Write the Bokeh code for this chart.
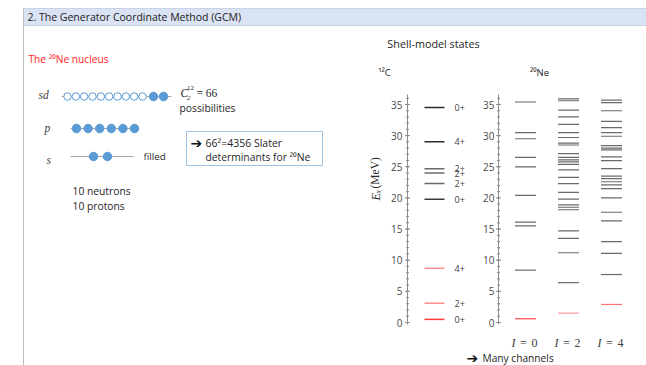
import numpy as np
from bokeh.plotting import figure
from bokeh.models import Range1d, Label, ColumnDataSource
from bokeh.core.properties import value
from bokeh.embed import file_html
from bokeh.resources import INLINE

# ---------------- data ----------------
c12_energy = [0.5, 3.1, 8.7, 19.8, 22.3, 24.0, 24.7, 29.0, 34.5]
c12_spin = ["0+", "2+", "4+", "0+", "2+", "2+", "2+", "4+", "0+"]
ne_I0 = [0.6, 8.4, 15.5, 16.1, 20.4, 25.0, 26.5, 29.5, 30.5, 35.4]
ne_I2 = [1.5, 6.4, 11.2, 13.5, 14.7, 18.1, 18.5, 18.9, 19.8, 20.9, 22.3, 23.3,
         24.5, 25.4, 25.8, 26.1, 26.5, 27.1, 28.5, 28.8, 29.7, 30.5, 31.8,
         33.0, 34.1, 35.6, 35.9]
ne_I4 = [2.9, 7.7, 11.1, 13.0, 16.3, 17.7, 20.0, 21.5, 22.1, 22.6, 23.1, 23.5,
         24.7, 26.0, 26.6, 27.7, 28.0, 28.4, 29.9, 30.5, 31.3, 32.3, 34.0,
         35.3, 35.7]
ne_channels = ["I = 0", "I = 2", "I = 4"]
major_ticks = [0, 5, 10, 15, 20, 25, 30, 35]
minor_ticks = list(range(0, 37))
sd_capacity, sd_occupied = 12, 2
p_occupied = 6
s_occupied = 2

# ---------------- canvas ----------------
W, H = 646, 365
p = figure(width=W, height=H, x_range=Range1d(0, W), y_range=Range1d(H, 0),
           output_backend="svg", toolbar_location=None, min_border=0,
           x_axis_location=None, y_axis_location=None,
           outline_line_color=None, background_fill_color="white")
for g in p.grid:
    g.visible = False
# energy scale: 0 MeV at y=322 px, 35 MeV at y=104 px
ppm = (322 - 104) / 35.0
p.extra_y_ranges = {"E": Range1d(start=(322 - H) / ppm, end=322 / ppm)}

SANS = "Open Sans"
SERIF = "Liberation Serif"


def T(x, y, text, size=9, color="#262626", font=SANS, style="normal",
      align="left", baseline="middle", angle=0):
    p.add_layout(Label(x=x, y=y, text=text, text_font=font,
                       text_font_size=f"{size}px", text_color=color,
                       text_font_style=style, text_align=align,
                       text_baseline=baseline, angle=angle))


# header band & slide border
p.quad(left=[23], right=[W], top=[8], bottom=[25], fill_color="#dae3f3",
       line_color="#c9d3e3", line_width=1)
p.segment(x0=[23], y0=[8], x1=[23], y1=[H], line_color="#bdbdbd", line_width=1)
T(27, 16.5, "2. The Generator Coordinate Method (GCM)", size=10.5, color="#1a1a1a")

# ---------------- left: 20Ne nucleus sketch ----------------
T(28, 58, "The ²⁰Ne nucleus", size=10.2, color="#ff1a1a")
BLUE = "#5b9bd5"
# sd shell
T(38, 94, "sd", size=11.5, color="#404040", font=SERIF, style="italic")
p.segment(x0=[61], y0=[96], x1=[171], y1=[96], line_color="#a6a6a6", line_width=1)
sd_open = np.linspace(67, 142, sd_capacity - sd_occupied)
sd_full = 153 + 10 * np.arange(sd_occupied)
p.scatter(sd_open, [96] * len(sd_open), size=7.5, fill_color="white",
          line_color=BLUE, line_width=1)
p.scatter(sd_full, [96] * len(sd_full), size=8.5, fill_color=BLUE, line_color=BLUE)
T(180, 92, "C", size=11.5, color="#262626", font=SERIF, style="italic")
T(186.5, 87, "12", size=7, color="#262626", font=SERIF)
T(186.5, 97.5, "2", size=7, color="#262626", font=SERIF, style="italic")
T(196, 92, "= 66", size=11.5, color="#262626", font=SERIF)
T(179, 107, "possibilities", size=10.3, color="#262626")
# p shell
T(44, 127, "p", size=11.5, color="#404040", font=SERIF, style="italic")
p.segment(x0=[70], y0=[128], x1=[137], y1=[128], line_color="#a6a6a6", line_width=1)
p_pos = np.linspace(76, 134, p_occupied)
p.scatter(p_pos, [128] * len(p_pos), size=8.5, fill_color=BLUE, line_color=BLUE)
# s shell
T(46, 159, "s", size=11.5, color="#404040", font=SERIF, style="italic")
p.segment(x0=[70], y0=[156], x1=[133], y1=[156], line_color="#a6a6a6", line_width=1)
s_pos = 93 + 14 * np.arange(s_occupied)
p.scatter(s_pos, [156] * len(s_pos), size=8.5, fill_color=BLUE, line_color=BLUE)
T(143, 156, "filled", size=9.8, color="#262626")
# box
p.quad(left=[186], right=[322], top=[131], bottom=[165], fill_color=None,
       line_color="#9dc3e6", line_width=1)
T(190, 142, "➔", size=14, color="#111111", font="DejaVu Sans")
T(205, 142, "66²=4356 Slater", size=10.5, color="#262626")
T(205, 156, "determinants for ²⁰Ne", size=10.3, color="#262626")
T(72, 190, "10 neutrons", size=10.3, color="#262626")
T(72, 205, "10 protons", size=10.3, color="#262626")

# ---------------- right: level schemes ----------------
T(433, 43, "Shell-model states", size=10.8, color="#262626", align="center")
T(384, 72, "¹²C", size=9.5, color="#262626", align="center")
T(539, 72, "²⁰Ne", size=9.5, color="#262626", align="center")

# rotated axis title E_x(MeV)
T(375, 200, "E", size=12, color="#262626", font=SERIF, style="italic", angle=np.pi / 2)
T(378, 193, "x", size=8, color="#262626", font=SERIF, style="italic", angle=np.pi / 2)
T(374.5, 188, "(MeV)", size=11.5, color="#262626", font=SERIF, angle=np.pi / 2)

GREY = "#6a6a6a"


def energy_axis(x_axis, x_lab):
    p.segment(x0=[x_axis], y0=[-0.3], x1=[x_axis], y1=[36.6], y_range_name="E",
              line_color="#8c8c8c", line_width=1)
    p.segment(x0=x_axis - 1.5, y0=minor_ticks, x1=x_axis + 1.5, y1=minor_ticks,
              y_range_name="E", line_color="#8c8c8c", line_width=1)
    p.segment(x0=x_axis - 2.5, y0=major_ticks, x1=x_axis + 2.5, y1=major_ticks,
              y_range_name="E", line_color="#8c8c8c", line_width=1)
    src = ColumnDataSource(dict(y=major_ticks, t=[str(v) for v in major_ticks]))
    p.text(x=x_lab, y="y", text="t", source=src, y_range_name="E",
           text_font=value(SANS), text_font_size="10px", text_color="#4a4a4a",
           text_align="right", text_baseline="middle")


energy_axis(407, 402)
energy_axis(498, 494)


def levels(cx, energies, red_count, red_color):
    cols = [red_color if i < red_count else GREY for i in range(len(energies))]
    p.segment(x0=cx - 10.5, y0=energies, x1=cx + 10.5, y1=energies,
              y_range_name="E", line_color=cols, line_width=1.2, line_cap="butt")


# 12C
c12_cols = ["#ff3b3b"] + ["#ff8c8c"] * 2 + ["#3a3a3a"] + [GREY] * 3 + ["#2a2a2a"] * 2
p.segment(x0=424, y0=c12_energy, x1=444, y1=c12_energy, y_range_name="E",
          line_color=c12_cols, line_width=1.5)
lab_src = ColumnDataSource(dict(y=c12_energy, t=c12_spin))
p.text(x=454, y="y", text="t", source=lab_src, y_range_name="E",
       text_font=value(SANS), text_font_size="9px", text_color="#404040",
       text_align="left", text_baseline="middle")

# 20Ne channels
levels(525, ne_I0, 1, "#ff4a4a")
levels(568, ne_I2, 1, "#ff9a9a")
levels(611, ne_I4, 1, "#ff7070")

for cx, ch in zip([525, 568, 611], ne_channels):
    sym, rest = ch.split(" ", 1)
    T(cx - 14, 342, sym, size=12, color="#404040", font=SERIF, style="italic")
    T(cx - 5.5, 342, rest.replace("= ", "=\u2009\u2009"), size=12, color="#404040", font=SERIF)

T(466, 357, "➔", size=14, color="#111111", font="DejaVu Sans")
T(482, 357, "Many channels", size=10.2, color="#262626")

open("out.html", "w").write(file_html(p, INLINE))
